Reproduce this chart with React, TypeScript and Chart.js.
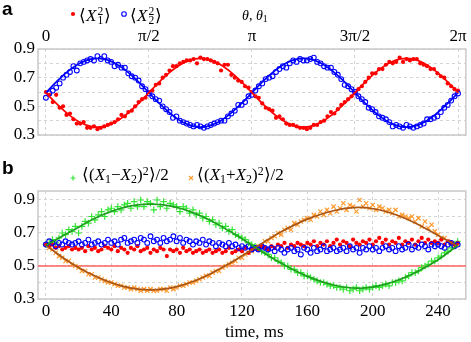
import React, { useEffect, useRef } from 'react';
import { Chart, registerables } from 'chart.js';
Chart.register(...registerables);

// ---------- Panel a ----------
const thetaDeg = [0,3,6,9,12,15,18,21,24,27,30,33,36,39,42,45,48,51,54,57,60,63,66,69,72,75,78,81,84,87,90,93,96,99,102,105,108,111,114,117,120,123,126,129,132,135,138,141,144,147,150,153,156,159,162,165,168,171,174,177,180,183,186,189,192,195,198,201,204,207,210,213,216,219,222,225,228,231,234,237,240,243,246,249,252,255,258,261,264,267,270,273,276,279,282,285,288,291,294,297,300,303,306,309,312,315,318,321,324,327,330,333,336,339,342,345,348,351,354,357,360];
const x1SqA = [
  0.60,0.58,0.53,0.58,0.49,0.50,0.44,0.45,0.41,0.38,
  0.38,0.39,0.35,0.35,0.36,0.34,0.35,0.36,0.37,0.38,
  0.39,0.41,0.44,0.43,0.46,0.47,0.50,0.53,0.55,0.56,
  0.60,0.61,0.65,0.66,0.70,0.72,0.75,0.78,0.78,0.80,
  0.81,0.82,0.82,0.83,0.80,0.84,0.83,0.83,0.82,0.81,
  0.80,0.75,0.79,0.79,0.72,0.70,0.68,0.67,0.64,0.63,
  0.60,0.57,0.56,0.52,0.49,0.48,0.47,0.42,0.43,0.41,
  0.38,0.37,0.37,0.36,0.35,0.35,0.34,0.35,0.37,0.37,
  0.39,0.40,0.43,0.46,0.45,0.48,0.51,0.53,0.55,0.57,
  0.59,0.62,0.64,0.67,0.70,0.73,0.73,0.76,0.76,0.79,
  0.81,0.80,0.81,0.84,0.81,0.83,0.82,0.83,0.83,0.80,
  0.79,0.78,0.76,0.76,0.73,0.71,0.70,0.66,0.64,0.62,
  0.61];
const x2SqA = [
  0.56,0.59,0.61,0.63,0.66,0.70,0.72,0.74,0.78,0.75,
  0.80,0.81,0.82,0.83,0.82,0.85,0.83,0.85,0.82,0.81,
  0.78,0.79,0.77,0.77,0.73,0.71,0.70,0.68,0.64,0.62,
  0.59,0.57,0.55,0.54,0.50,0.48,0.46,0.42,0.43,0.40,
  0.39,0.38,0.37,0.36,0.37,0.36,0.35,0.36,0.37,0.38,
  0.39,0.40,0.40,0.43,0.45,0.47,0.51,0.51,0.53,0.57,
  0.58,0.61,0.64,0.66,0.69,0.70,0.71,0.74,0.76,0.78,
  0.77,0.80,0.82,0.81,0.83,0.82,0.82,0.83,0.84,0.81,
  0.80,0.78,0.77,0.77,0.74,0.72,0.69,0.65,0.64,0.62,
  0.60,0.57,0.55,0.53,0.49,0.48,0.46,0.43,0.42,0.41,
  0.39,0.36,0.37,0.36,0.35,0.37,0.36,0.35,0.36,0.37,
  0.38,0.41,0.41,0.42,0.43,0.46,0.49,0.51,0.54,0.57,
  0.59];
const fitThetaDeg = [0,10,20,30,40,50,60,70,80,90,100,110,120,130,140,150,160,170,180,190,200,210,220,230,240,250,260,270,280,290,300,310,320,330,340,350,360];
const x1SqFitA = [0.595,0.513,0.441,0.387,0.359,0.359,0.387,0.441,0.513,0.595,0.677,0.749,0.803,0.831,0.831,0.803,0.749,0.677,0.595,0.513,0.441,0.387,0.359,0.359,0.387,0.441,0.513,0.595,0.677,0.749,0.803,0.831,0.831,0.803,0.749,0.677,0.595];
const x2SqFitA = [0.595,0.677,0.749,0.803,0.831,0.831,0.803,0.749,0.677,0.595,0.513,0.441,0.387,0.359,0.359,0.387,0.441,0.513,0.595,0.677,0.749,0.803,0.831,0.831,0.803,0.749,0.677,0.595,0.513,0.441,0.387,0.359,0.359,0.387,0.441,0.513,0.595];
const thetaTickValues = [0, 90, 180, 270, 360];
const thetaTickLabels = ['0', 'π/2', 'π', '3π/2', '2π'];
const yTickValues = [0.3, 0.4, 0.5, 0.6, 0.7, 0.8, 0.9];
const yTickLabels = ['0.3', '', '0.5', '', '0.7', '', '0.9'];

// ---------- Panel b ----------
const timeMs = [0,2,4,6,8,10,12,14,16,18,20,22,24,26,28,30,32,34,36,38,40,42,44,46,48,50,52,54,56,58,60,62,64,66,68,70,72,74,76,78,80,82,84,86,88,90,92,94,96,98,100,102,104,106,108,110,112,114,116,118,120,122,124,126,128,130,132,134,136,138,140,142,144,146,148,150,152,154,156,158,160,162,164,166,168,170,172,174,176,178,180,182,184,186,188,190,192,194,196,198,200,202,204,206,208,210,212,214,216,218,220,222,224,226,228,230,232,234,236,238,240,242,244,246,248,250,252];
const diffSqB = [
  0.63,0.64,0.66,0.64,0.67,0.70,0.69,0.72,0.71,0.74,
  0.70,0.74,0.77,0.76,0.80,0.78,0.81,0.83,0.80,0.84,
  0.85,0.83,0.86,0.84,0.87,0.88,0.85,0.89,0.86,0.90,
  0.86,0.89,0.88,0.84,0.90,0.86,0.89,0.85,0.88,0.87,
  0.86,0.83,0.86,0.85,0.82,0.84,0.81,0.82,0.79,0.80,
  0.77,0.78,0.75,0.76,0.73,0.74,0.71,0.72,0.69,0.68,
  0.67,0.66,0.64,0.63,0.62,0.61,0.59,0.58,0.57,0.55,
  0.55,0.53,0.52,0.50,0.50,0.48,0.48,0.46,0.46,0.44,
  0.44,0.43,0.42,0.41,0.40,0.40,0.39,0.38,0.38,0.37,
  0.37,0.36,0.37,0.35,0.36,0.37,0.35,0.36,0.37,0.36,
  0.37,0.38,0.37,0.38,0.39,0.38,0.40,0.40,0.41,0.41,
  0.43,0.44,0.46,0.46,0.47,0.49,0.50,0.51,0.53,0.53,
  0.55,0.56,0.58,0.59,0.61,0.63,0.65];
const sumSqB = [
  0.63,0.61,0.60,0.58,0.56,0.55,0.53,0.53,0.51,0.50,
  0.49,0.47,0.47,0.45,0.45,0.43,0.43,0.42,0.41,0.40,
  0.40,0.39,0.38,0.38,0.37,0.37,0.36,0.37,0.36,0.35,
  0.36,0.35,0.36,0.35,0.35,0.36,0.36,0.35,0.37,0.36,
  0.37,0.38,0.38,0.39,0.40,0.40,0.41,0.42,0.43,0.44,
  0.44,0.46,0.47,0.47,0.49,0.50,0.51,0.52,0.53,0.55,
  0.55,0.57,0.58,0.59,0.60,0.62,0.62,0.65,0.65,0.67,
  0.68,0.70,0.69,0.72,0.73,0.72,0.76,0.75,0.77,0.78,
  0.79,0.78,0.81,0.80,0.83,0.81,0.84,0.82,0.86,0.83,
  0.85,0.88,0.84,0.87,0.86,0.83,0.90,0.86,0.88,0.85,
  0.87,0.84,0.86,0.85,0.83,0.84,0.82,0.84,0.80,0.81,
  0.80,0.79,0.80,0.77,0.79,0.74,0.77,0.73,0.75,0.71,
  0.69,0.67,0.67,0.65,0.64,0.63,0.63];
const x1SqB = [
  0.63,0.62,0.63,0.61,0.62,0.60,0.61,0.62,0.60,0.61,
  0.60,0.61,0.59,0.62,0.60,0.61,0.59,0.60,0.62,0.61,
  0.60,0.62,0.59,0.61,0.60,0.58,0.61,0.60,0.62,0.59,
  0.60,0.61,0.58,0.60,0.59,0.61,0.60,0.56,0.60,0.59,
  0.60,0.58,0.61,0.59,0.60,0.58,0.59,0.60,0.58,0.59,
  0.60,0.58,0.59,0.60,0.58,0.59,0.61,0.58,0.59,0.60,
  0.59,0.61,0.58,0.60,0.61,0.60,0.62,0.61,0.60,0.62,
  0.61,0.63,0.62,0.64,0.61,0.63,0.62,0.64,0.63,0.62,
  0.64,0.63,0.65,0.62,0.64,0.63,0.65,0.62,0.64,0.66,
  0.63,0.65,0.64,0.62,0.66,0.64,0.63,0.65,0.64,0.66,
  0.63,0.65,0.67,0.64,0.66,0.63,0.65,0.64,0.67,0.63,
  0.65,0.64,0.66,0.63,0.65,0.67,0.64,0.66,0.64,0.65,
  0.64,0.66,0.63,0.65,0.64,0.63,0.64];
const x2SqB = [
  0.63,0.65,0.64,0.62,0.64,0.63,0.65,0.64,0.63,0.64,
  0.65,0.63,0.64,0.66,0.63,0.64,0.65,0.63,0.64,0.66,
  0.64,0.65,0.63,0.66,0.67,0.64,0.65,0.66,0.64,0.67,
  0.66,0.64,0.68,0.65,0.66,0.64,0.67,0.65,0.66,0.68,
  0.65,0.67,0.64,0.66,0.65,0.63,0.65,0.64,0.66,0.63,
  0.65,0.64,0.62,0.64,0.63,0.62,0.64,0.62,0.63,0.61,
  0.62,0.61,0.62,0.60,0.61,0.60,0.62,0.61,0.60,0.61,
  0.59,0.61,0.60,0.58,0.60,0.61,0.59,0.60,0.57,0.61,
  0.60,0.58,0.61,0.59,0.60,0.62,0.59,0.60,0.61,0.59,
  0.60,0.61,0.59,0.62,0.60,0.61,0.58,0.61,0.60,0.62,
  0.60,0.61,0.59,0.61,0.62,0.60,0.61,0.59,0.62,0.60,
  0.61,0.63,0.60,0.62,0.61,0.63,0.62,0.60,0.63,0.62,
  0.63,0.62,0.61,0.63,0.64,0.62,0.63];
const fitTimeMs = [0,16,32,48,64,80,96,112,128,144,160,176,192,208,224,240,252];
const diffSqFitB = [0.625,0.713,0.798,0.855,0.875,0.855,0.798,0.713,0.614,0.516,0.437,0.385,0.365,0.39,0.45,0.538,0.625];
const sumSqFitB = [0.625,0.514,0.43,0.375,0.355,0.375,0.43,0.514,0.611,0.707,0.784,0.835,0.855,0.83,0.77,0.685,0.62];
const timeTickValues = [0, 40, 80, 120, 160, 200, 240];
const refLevel = 0.5;

const SERIF = '"Liberation Serif", "Times New Roman", serif';
const pts = (xs: number[], ys: number[]) => ys.map((y, i) => ({ x: xs[i], y }));

const framePlugin = {
  id: 'frame',
  beforeDatasetsDraw(chart: any) {
    const { ctx, chartArea: a } = chart;
    ctx.save();
    ctx.strokeStyle = '#c9c9c9';
    ctx.lineWidth = 1.5;
    ctx.strokeRect(a.left, a.top, a.right - a.left, a.bottom - a.top);
    ctx.restore();
  },
};

const refLinePlugin = {
  id: 'refLine',
  beforeDatasetsDraw(chart: any) {
    const { ctx, chartArea: a, scales } = chart;
    const y = scales.y.getPixelForValue(refLevel);
    ctx.save();
    ctx.strokeStyle = 'rgba(255,70,70,0.85)';
    ctx.lineWidth = 1.5;
    ctx.beginPath();
    ctx.moveTo(a.left, y);
    ctx.lineTo(a.right, y);
    ctx.stroke();
    ctx.restore();
  },
};

const gridOpts = { color: '#d4d4d4', lineWidth: 1, drawTicks: false };
const borderOpts = { display: false, dash: [3, 3] };
const tickFont = { family: SERIF, size: 17 };

const yScale = (max: number) => ({
  type: 'linear',
  min: 0.3,
  max,
  afterBuildTicks: (s: any) => { s.ticks = yTickValues.map((v) => ({ value: v })); },
  afterFit: (s: any) => { s.width = 38; },
  ticks: {
    callback: (_v: any, i: number) => yTickLabels[i],
    font: tickFont,
    color: '#000',
    padding: 3,
    autoSkip: false,
  },
  grid: gridOpts,
  border: borderOpts,
});

const lineDs = (data: any[], color: string) => ({
  type: 'scatter',
  data,
  showLine: true,
  pointRadius: 0,
  borderColor: color,
  backgroundColor: color,
  borderWidth: 1.7,
  tension: 0.4,
  fill: false,
});

const filledDots = (data: any[], color: string, r: number) => ({
  type: 'scatter',
  data,
  pointStyle: 'circle',
  pointRadius: r,
  pointBackgroundColor: color,
  backgroundColor: color,
  pointBorderColor: color,
  borderColor: color,
  pointBorderWidth: 0,
});

const openMarks = (data: any[], color: string, style: string, r: number, w: number) => ({
  type: 'scatter',
  data,
  pointStyle: style,
  pointRadius: r,
  pointBackgroundColor: 'rgba(0,0,0,0)',
  backgroundColor: 'rgba(0,0,0,0)',
  pointBorderColor: color,
  borderColor: color,
  pointBorderWidth: w,
});

const commonPlugins = { legend: { display: false }, tooltip: { enabled: false } };

const configA: any = {
  type: 'scatter',
  data: {
    datasets: [
      lineDs(pts(fitThetaDeg, x1SqFitA), '#ff0000'),
      lineDs(pts(fitThetaDeg, x2SqFitA), '#0000ff'),
      openMarks(pts(thetaDeg, x2SqA), '#0000ff', 'circle', 2.4, 1.1),
      filledDots(pts(thetaDeg, x1SqA), '#ff0000', 2.1),
    ],
  },
  options: {
    responsive: false,
    animation: false,
    events: [],
    layout: { padding: { right: 1, bottom: 15, top: 0, left: 0 } },
    plugins: commonPlugins,
    scales: {
      x: {
        type: 'linear',
        position: 'top',
        min: -6.9,
        max: 366.9,
        afterBuildTicks: (s: any) => { s.ticks = thetaTickValues.map((v) => ({ value: v })); },
        afterFit: (s: any) => { s.height = 49; },
        ticks: {
          callback: (_v: any, i: number) => thetaTickLabels[i],
          font: tickFont,
          color: '#000',
          padding: 2,
          maxRotation: 0,
          autoSkip: false,
        },
        grid: gridOpts,
        border: borderOpts,
      },
      y: yScale(0.9),
    },
  },
  plugins: [framePlugin],
};

const configB: any = {
  type: 'scatter',
  data: {
    datasets: [
      lineDs(pts(fitTimeMs, diffSqFitB), '#1f9e1f'),
      lineDs(pts(fitTimeMs, sumSqFitB), '#a85516'),
      openMarks(pts(timeMs, x2SqB), '#0000ff', 'circle', 2.4, 1.1),
      filledDots(pts(timeMs, x1SqB), '#ff0000', 2.1),
      openMarks(pts(timeMs, sumSqB), '#ff9a2e', 'crossRot', 3, 1.2),
      openMarks(pts(timeMs, diffSqB), '#33e633', 'cross', 3.3, 1.2),
    ],
  },
  options: {
    responsive: false,
    animation: false,
    events: [],
    layout: { padding: { right: 1, bottom: 0, top: 41, left: 0 } },
    plugins: commonPlugins,
    scales: {
      x: {
        type: 'linear',
        position: 'bottom',
        min: -4.85,
        max: 256.97,
        afterBuildTicks: (s: any) => { s.ticks = timeTickValues.map((v) => ({ value: v })); },
        afterFit: (s: any) => { s.height = 43; },
        ticks: {
          callback: (v: any) => String(v),
          font: tickFont,
          color: '#000',
          padding: 2,
          maxRotation: 0,
          autoSkip: false,
        },
        grid: gridOpts,
        border: borderOpts,
      },
      y: yScale(0.9545),
    },
  },
  plugins: [framePlugin, refLinePlugin],
};

const abs = (left: number, top: number, extra: any = {}) => ({
  position: 'absolute' as const,
  left,
  top,
  lineHeight: 1,
  whiteSpace: 'nowrap' as const,
  ...extra,
});

const Stack = ({ sup, sub }: { sup: string; sub: string }) => (
  <span style={{ position: 'relative', display: 'inline-block', width: '0.45em', height: '1em' }}>
    <span style={{ position: 'absolute', left: 1, top: 2, fontSize: '0.68em', lineHeight: 1 }}>{sup}</span>
    <span style={{ position: 'absolute', left: 1, top: 11, fontSize: '0.68em', lineHeight: 1 }}>{sub}</span>
  </span>
);
const Sub = ({ t }: { t: string }) => (
  <span style={{ fontSize: '0.7em', position: 'relative', top: '0.22em' }}>{t}</span>
);
const Sup = ({ t }: { t: string }) => (
  <span style={{ fontSize: '0.7em', position: 'relative', top: '-0.45em' }}>{t}</span>
);

export default function App() {
  const refA = useRef<HTMLCanvasElement>(null);
  const refB = useRef<HTMLCanvasElement>(null);
  useEffect(() => {
    const a = new Chart(refA.current as HTMLCanvasElement, configA);
    const b = new Chart(refB.current as HTMLCanvasElement, configB);
    return () => {
      a.destroy();
      b.destroy();
    };
  }, []);

  return (
    <div
      style={{
        position: 'absolute',
        left: 0,
        top: 0,
        width: 471,
        height: 342,
        background: '#fff',
        overflow: 'hidden',
        fontFamily: SERIF,
        color: '#000',
      }}
    >
      <canvas ref={refA} width={471} height={150} style={{ position: 'absolute', left: 0, top: 0, width: 471, height: 150 }} />
      <canvas ref={refB} width={471} height={192} style={{ position: 'absolute', left: 0, top: 150, width: 471, height: 192 }} />

      {/* panel labels */}
      <div style={abs(2, -1, { fontFamily: '"Liberation Sans", Arial, sans-serif', fontWeight: 'bold', fontSize: 19 })}>a</div>
      <div style={abs(2, 158, { fontFamily: '"Liberation Sans", Arial, sans-serif', fontWeight: 'bold', fontSize: 19 })}>b</div>

      {/* legend a */}
      <svg style={{ position: 'absolute', left: 68, top: 9 }} width={10} height={10}>
        <circle cx={5} cy={5} r={2.1} fill="#ff0000" />
      </svg>
      <div style={abs(79, 4, { fontSize: 17 })}>
        ⟨<i>X</i><Stack sup="2" sub="1" />⟩
      </div>
      <svg style={{ position: 'absolute', left: 119, top: 9 }} width={10} height={10}>
        <circle cx={5} cy={5} r={2.3} fill="none" stroke="#0000ff" strokeWidth={1.1} />
      </svg>
      <div style={abs(130, 4, { fontSize: 17 })}>
        ⟨<i>X</i><Stack sup="2" sub="2" />⟩
      </div>

      {/* top axis title */}
      <div style={abs(242, 9, { fontSize: 14 })}>
        <i>θ</i>, <i>θ</i><Sub t="1" />
      </div>

      {/* legend b */}
      <svg style={{ position: 'absolute', left: 68, top: 173 }} width={10} height={10}>
        <path d="M5 2.5 V7.5 M2.5 5 H7.5" stroke="#33e633" strokeWidth={1.2} />
      </svg>
      <div style={abs(82, 166, { fontSize: 17 })}>
        ⟨(<i>X</i><Sub t="1" />−<i>X</i><Sub t="2" />)<Sup t="2" />⟩/2
      </div>
      <svg style={{ position: 'absolute', left: 186, top: 173 }} width={10} height={10}>
        <path d="M3 3 L7 7 M7 3 L3 7" stroke="#ff9a2e" strokeWidth={1.2} />
      </svg>
      <div style={abs(197, 166, { fontSize: 17 })}>
        ⟨(<i>X</i><Sub t="1" />+<i>X</i><Sub t="2" />)<Sup t="2" />⟩/2
      </div>

      {/* bottom axis title */}
      <div style={abs(225, 323, { fontSize: 17 })}>time, ms</div>
    </div>
  );
}
